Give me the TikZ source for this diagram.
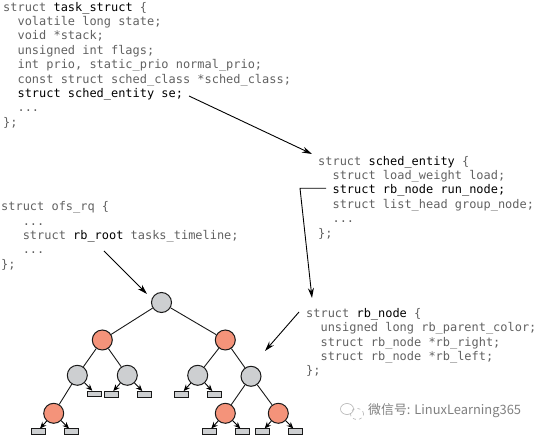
\documentclass[tikz,border=0pt]{standalone}
\usepackage{fontspec}
\setmonofont{DejaVu Sans Mono}
\newfontfamily\cjkmark{Noto Sans CJK SC}
\usetikzlibrary{arrows.meta}
\definecolor{salmon}{HTML}{F4937A}
\definecolor{nodegray}{HTML}{CDCFD1}
\newcommand{\hl}[1]{\textcolor{black}{#1}}
\newcommand{\ind}[1]{\phantom{#1}}
\tikzset{
  x=1pt,y=-1pt,
  code/.style={anchor=north west,inner sep=0pt,align=left,text=black!62,
    font=\fontsize{11.95}{14.35}\selectfont\ttfamily},
  rbk/.style={circle,draw=black!90,line width=1pt,fill=nodegray,minimum size=20pt,inner sep=0pt},
  rrd/.style={circle,draw=black!90,line width=1pt,fill=salmon,minimum size=20pt,inner sep=0pt},
  leafbox/.style={rectangle,draw=black!90,line width=1pt,fill=nodegray,minimum width=14pt,minimum height=5.5pt,inner sep=0pt},
  edge/.style={draw=black!90,line width=.9pt},
  ptr/.style={draw=black,line width=.9pt,-{Stealth[length=10pt,width=6pt]}},
  tip/.style={draw=black,line width=.9pt,-{Stealth[length=6.5pt,width=5.5pt]}},
}
\begin{document}
\begin{tikzpicture}
\useasboundingbox (0,0) rectangle (538,435);
% code blocks
\node[code] (task) at (3,2) {struct \hl{task\_struct} \{\\
\ind{xx}volatile long state;\\
\ind{xx}void *stack;\\
\ind{xx}unsigned int flags;\\
\ind{xx}int prio, static\_prio normal\_prio;\\
\ind{xx}const struct sched\_class *sched\_class;\\
\ind{xx}\hl{struct sched\_entity se;}\\
\ind{xx}...\\
\};};
\node[code] (entity) at (318,156) {struct \hl{sched\_entity} \{\\
\ind{xx}struct load\_weight load;\\
\ind{xx}\hl{struct rb\_node run\_node;}\\
\ind{xx}struct list\_head group\_node;\\
\ind{xx}...\\
\};};
\node[code] (ofs) at (1,201.5) {struct ofs\_rq \{\\
\ind{xxx}...\\
\ind{xxx}struct \hl{rb\_root} tasks\_timeline;\\
\ind{xxx}...\\
\};};
\node[code] (rbn) at (306,308.2) {struct \hl{rb\_node} \{\\
\ind{xx}unsigned long rb\_parent\_color;\\
\ind{xx}struct rb\_node *rb\_right;\\
\ind{xx}struct rb\_node *rb\_left;\\
\};};
% tree
\node[rbk] (root) at (161.5,302.5) {};
\node[rrd] (l) at (102.3,340) {};
\node[rrd] (r) at (225.3,340) {};
\node[rbk] (ll) at (77.3,375.3) {};
\node[rbk] (lr) at (127.3,375.3) {};
\node[rbk] (rl) at (197.7,375.3) {};
\node[rbk] (rr) at (251,376.3) {};
\node[rrd] (lll) at (53.7,413.3) {};
\node[rrd] (rrl) at (225.3,413.3) {};
\node[rrd] (rrr) at (278.3,413.3) {};
\node[leafbox] (a1) at (94.3,394) {};
\node[leafbox] (a2) at (111.3,394.3) {};
\node[leafbox] (a3) at (144.3,394.3) {};
\node[leafbox] (a4) at (181.7,394.3) {};
\node[leafbox] (a5) at (214.3,394.3) {};
\node[leafbox] (b1) at (38,431.7) {};
\node[leafbox] (b2) at (71,431.7) {};
\node[leafbox] (b3) at (209.3,431.7) {};
\node[leafbox] (b4) at (242.3,431.7) {};
\node[leafbox] (b5) at (262.7,431.7) {};
\node[leafbox] (b6) at (295.3,431.7) {};
\draw[edge] (root)--(l) (root)--(r) (l)--(ll) (l)--(lr) (r)--(rl) (r)--(rr)
  (ll)--(lll) (rr)--(rrl) (rr)--(rrr);
\draw[tip] (ll) -- ([xshift=-2pt]a1.north);
\draw[tip] (lr) -- ([xshift=2pt]a2.north);
\draw[tip] (lr) -- ([xshift=-2pt]a3.north);
\draw[tip] (rl) -- ([xshift=2pt]a4.north);
\draw[tip] (rl) -- ([xshift=-2pt]a5.north);
\draw[tip] (lll) -- ([xshift=2pt]b1.north);
\draw[tip] (lll) -- ([xshift=-2pt]b2.north);
\draw[tip] (rrl) -- ([xshift=2pt]b3.north);
\draw[tip] (rrl) -- ([xshift=-2pt]b4.north);
\draw[tip] (rrr) -- ([xshift=2pt]b5.north);
\draw[tip] (rrr) -- ([xshift=-2pt]b6.north);
% pointers
\coordinate (seFrom) at (189,96);
\coordinate (seTo) at (312,154);
\coordinate (runFrom) at (326,188.3);
\coordinate (runBend) at (300,188.3);
\coordinate (runTo) at (312,298);
\coordinate (rootFrom) at (104,251);
\coordinate (rootTo) at (147,294);
\coordinate (nodeFrom) at (299,312);
\coordinate (nodeTo) at (265,351);
\draw[ptr] (seFrom) -- (seTo);
\draw[ptr] (runFrom) -- (runBend) -- (runTo);
\draw[ptr] (rootFrom) -- (rootTo);
\draw[ptr] (nodeFrom) -- (nodeTo);
% watermark
\draw[black!30,line width=.6pt] (347,409) ellipse (6.5pt and 5.5pt);
\draw[black!30,line width=.6pt,dashed] (357,414) ellipse (6.5pt and 5.5pt);
\node[anchor=west,inner sep=0pt,text=black!50,font=\fontsize{12.9}{14}\cjkmark] (mark) at (368,410.5) {微信号: LinuxLearning365};
\end{tikzpicture}
\end{document}
